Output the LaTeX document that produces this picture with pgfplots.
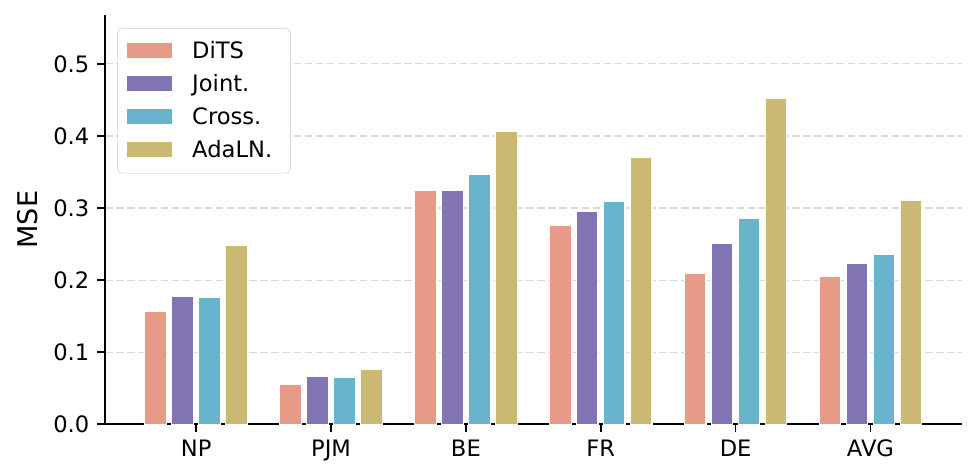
\documentclass[border=0pt]{standalone}
\usepackage{fontspec}
\setmainfont{DejaVu Sans}
\usepackage{pgfplots}
\pgfplotsset{compat=1.18}
\definecolor{cDiTS}{HTML}{E89A88}
\definecolor{cJoint}{HTML}{8273B3}
\definecolor{cCross}{HTML}{68B4CD}
\definecolor{cAda}{HTML}{CBB873}
\begin{document}
\begin{tikzpicture}
\begin{axis}[
  width=379pt, height=181pt, scale only axis,
  xmin=-0.675, xmax=5.68, ymin=0, ymax=0.568,
  xtick={0,1,2,3,4,5},
  xticklabels={NP,PJM,BE,FR,DE,AVG},
  ytick={0,0.1,0.2,0.3,0.4,0.5},
  yticklabel style={/pgf/number format/.cd,fixed,fixed zerofill,precision=1},
  /pgf/number format/assume math mode=true,
  tick label style={font=\fontsize{10}{12}\selectfont},
  ylabel={MSE}, ylabel style={font=\fontsize{12}{14}\selectfont},
  ylabel shift=0pt,
  axis x line*=bottom, axis y line*=left,
  axis line style={line width=0.7pt},
  tick style={black, line width=0.7pt},
  tick align=outside, major tick length=3.5pt,
  ymajorgrids, grid style={dash pattern=on 3.3pt off 1.6pt, gray!30, line width=0.5pt},
  ybar, bar width=0.16,
  every axis plot/.append style={draw=white, line width=0.5pt},
  legend style={at={(0.014,0.968)}, anchor=north west, draw=gray!25, rounded corners=2pt,
    font=\fontsize{10}{12}\selectfont, row sep=1.6pt, inner xsep=4pt, inner ysep=3.5pt},
  legend cell align=left,
  legend image code/.code={\fill[#1, draw=none, sharp corners] (0pt,-3pt) rectangle (20pt,3.6pt); \path[draw=none, fill=none] (0pt,0pt) -- (25pt,0pt);},
  legend style={nodes={inner xsep=4pt}},
]
\addplot[fill=cDiTS, bar shift=-0.3] coordinates {(0,0.157) (1,0.055) (2,0.325) (3,0.276) (4,0.209) (5,0.205)};
\addplot[fill=cJoint, bar shift=-0.1] coordinates {(0,0.177) (1,0.067) (2,0.324) (3,0.295) (4,0.251) (5,0.223)};
\addplot[fill=cCross, bar shift=0.1] coordinates {(0,0.176) (1,0.065) (2,0.346) (3,0.309) (4,0.286) (5,0.236)};
\addplot[fill=cAda, bar shift=0.3] coordinates {(0,0.248) (1,0.076) (2,0.406) (3,0.370) (4,0.452) (5,0.310)};
\legend{DiTS, Joint., Cross., AdaLN.}
\path (rel axis cs:1,1) ++(7pt,6.6pt) coordinate (tr);
\path (rel axis cs:0,0) ++(-46.5pt,0pt) coordinate (bl);
\end{axis}
\path[draw=none] (tr) circle (0pt) (bl) circle (0pt);
\end{tikzpicture}
\end{document}
